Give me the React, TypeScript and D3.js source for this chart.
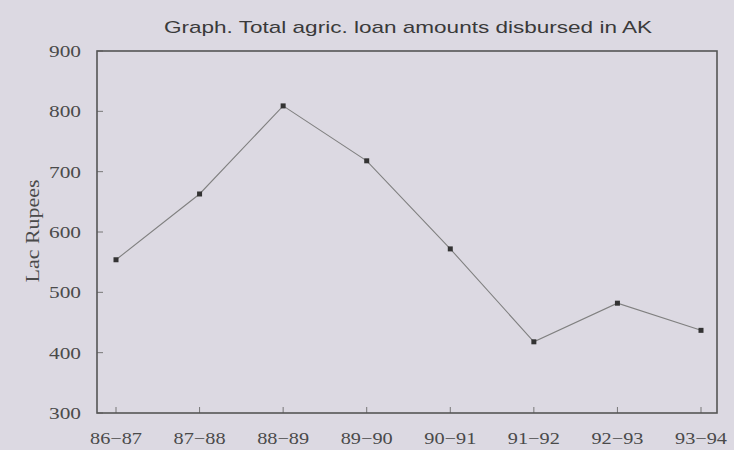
import React from "react";
import * as d3 from "d3";

const categories = ["86−87", "87−88", "88−89", "89−90", "90−91", "91−92", "92−93", "93−94"];
const loanValues = [554, 663, 809, 718, 572, 418, 482, 437];
const yTicks = [300, 400, 500, 600, 700, 800, 900];

const W = 734;
const H = 450;
const box = { left: 97, right: 717, top: 51, bottom: 413 };

export default function App() {
  const x = d3.scalePoint<string>().domain(categories).range([116, 701]);
  const y = d3.scaleLinear().domain([300, 900]).range([box.bottom, box.top]);
  const line = d3
    .line<number>()
    .x((_, i) => x(categories[i]) as number)
    .y((d) => y(d));

  const serif = "'Liberation Serif', 'DejaVu Serif', serif";
  const sans = "'Liberation Sans', Arial, sans-serif";

  return (
    <svg
      width={W}
      height={H}
      style={{ position: "fixed", left: 0, top: 0, display: "block" }}
    >
      <rect x={0} y={0} width={W} height={H} fill="#dcd9e2" />
      <text
        x={408}
        y={33}
        textAnchor="middle"
        fontFamily={sans}
        fontSize={17}
        textLength={488}
        lengthAdjust="spacingAndGlyphs"
        fill="#3a3a3a"
      >
        Graph. Total agric. loan amounts disbursed in AK
      </text>
      {/* y ticks */}
      {yTicks.map((t) => (
        <g key={t}>
          <line
            x1={box.left}
            x2={box.left + 6}
            y1={y(t)}
            y2={y(t)}
            stroke="#777"
            strokeWidth={1}
          />
          <text
            x={81}
            y={y(t) + 6}
            textAnchor="end"
            fontFamily={serif}
            fontSize={17}
            textLength={32}
            lengthAdjust="spacingAndGlyphs"
            fill="#4a4a4a"
          >
            {t}
          </text>
        </g>
      ))}
      {/* x ticks */}
      {categories.map((c) => (
        <g key={c}>
          <line
            x1={x(c)}
            x2={x(c)}
            y1={box.bottom}
            y2={box.bottom - 6}
            stroke="#777"
            strokeWidth={1}
          />
          <text
            x={x(c)}
            y={444}
            textAnchor="middle"
            fontFamily={serif}
            fontSize={17}
            textLength={52}
            lengthAdjust="spacingAndGlyphs"
            fill="#4a4a4a"
          >
            {c}
          </text>
        </g>
      ))}
      <text
        transform={`translate(39, 231) rotate(-90)`}
        textAnchor="middle"
        fontFamily={serif}
        fontSize={18}
        textLength={103}
        lengthAdjust="spacingAndGlyphs"
        fill="#4a4a4a"
      >
        Lac Rupees
      </text>
      <rect
        x={box.left}
        y={box.top}
        width={box.right - box.left}
        height={box.bottom - box.top}
        fill="none"
        stroke="#555"
        strokeWidth={1.6}
      />
      <path d={line(loanValues) || ""} fill="none" stroke="#808080" strokeWidth={1.1} />
      {loanValues.map((v, i) => (
        <rect
          key={i}
          x={(x(categories[i]) as number) - 2.5}
          y={y(v) - 2.5}
          width={5}
          height={5}
          fill="#333"
        />
      ))}
    </svg>
  );
}
